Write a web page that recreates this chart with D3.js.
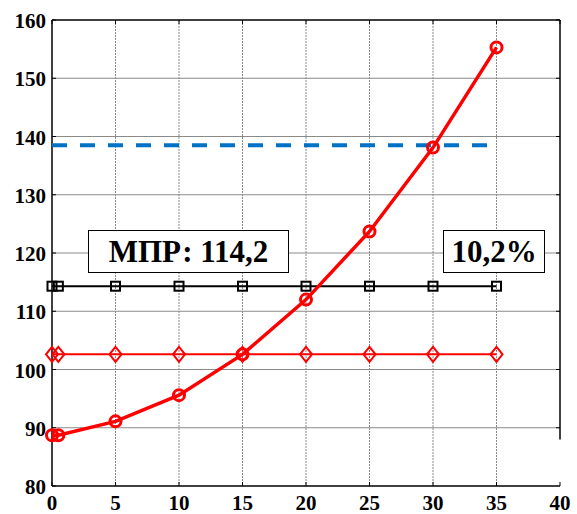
<!DOCTYPE html>
<html>
<head>
<meta charset="utf-8">
<script src="https://cdn.jsdelivr.net/npm/d3@7"></script>
<style>
html,body{margin:0;padding:0;background:#fff;}
svg{display:block;}
</style>
</head>
<body>
<script>
// ---- data ----
const xValues = [0, 0.5, 5, 10, 15, 20, 25, 30, 35];
const curveValues = [88.7, 88.7, 91.1, 95.6, 102.6, 112.0, 123.7, 138.1, 155.3];
const diamondValues = [102.6, 102.6, 102.6, 102.6, 102.6, 102.6, 102.6, 102.6, 102.6];
const squareValues = [114.3, 114.3, 114.3, 114.3, 114.3, 114.3, 114.3, 114.3, 114.3];
const dashedLevel = 138.5;
const dashedRange = [0, 35];
const xTicks = [0, 5, 10, 15, 20, 25, 30, 35, 40];
const yTicks = [80, 90, 100, 110, 120, 130, 140, 150, 160];
const labelLeft = "МПР: 114,2";
const labelRight = "10,2%";

const W = 577, H = 514;
const svg = d3.select("body").append("svg").attr("width", W).attr("height", H);
const font = "Liberation Serif, Times New Roman, serif";

const x = d3.scaleLinear().domain([0, 40]).range([52, 560]);
const y = d3.scaleLinear().domain([80, 160]).range([486, 20]);

// grid
const grid = svg.append("g");
grid.selectAll("line.v").data(xTicks.filter(d => d > 0 && d < 40)).join("line")
  .attr("x1", d => x(d)).attr("x2", d => x(d)).attr("y1", y(160)).attr("y2", y(80))
  .attr("stroke", "#8a8a8a").attr("stroke-width", 1).attr("stroke-dasharray", "2,1");
grid.selectAll("line.h").data(yTicks.filter(d => d > 80 && d < 160)).join("line")
  .attr("x1", x(0)).attr("x2", x(40)).attr("y1", d => y(d)).attr("y2", d => y(d))
  .attr("stroke", "#8a8a8a").attr("stroke-width", 1);

// axes frame
const ax = svg.append("g").attr("stroke", "#000").attr("stroke-width", 1.5);
ax.append("line").attr("x1", x(0)).attr("x2", x(40)).attr("y1", y(80)).attr("y2", y(80));
ax.append("line").attr("x1", x(0)).attr("x2", x(40)).attr("y1", y(160)).attr("y2", y(160));
ax.append("line").attr("x1", x(0)).attr("x2", x(0)).attr("y1", y(80)).attr("y2", y(160));
ax.append("line").attr("x1", x(40)).attr("x2", x(40)).attr("y1", y(160)).attr("y2", y(88));

// ticks
const tk = svg.append("g").attr("stroke", "#000").attr("stroke-width", 1);
tk.selectAll("line.b").data(xTicks).join("line")
  .attr("x1", d => x(d)).attr("x2", d => x(d)).attr("y1", y(80)).attr("y2", y(80) - 4);
tk.selectAll("line.t").data(xTicks).join("line")
  .attr("x1", d => x(d)).attr("x2", d => x(d)).attr("y1", y(160)).attr("y2", y(160) + 4);
tk.selectAll("line.l").data(yTicks).join("line")
  .attr("x1", x(0)).attr("x2", x(0) + 4).attr("y1", d => y(d)).attr("y2", d => y(d));
tk.selectAll("line.r").data(yTicks.filter(d => d >= 90)).join("line")
  .attr("x1", x(40)).attr("x2", x(40) - 4).attr("y1", d => y(d)).attr("y2", d => y(d));

// tick labels
svg.append("g").selectAll("text").data(xTicks).join("text")
  .attr("x", d => x(d)).attr("y", 510).attr("text-anchor", "middle")
  .attr("font-family", font).attr("font-weight", "bold").attr("font-size", 21)
  .text(d => d);
svg.append("g").selectAll("text").data(yTicks).join("text")
  .attr("x", 46).attr("y", d => y(d) + 8).attr("text-anchor", "end")
  .attr("font-family", font).attr("font-weight", "bold").attr("font-size", 21)
  .text(d => d);

// dashed blue line
svg.append("line")
  .attr("x1", x(dashedRange[0])).attr("x2", x(dashedRange[1]))
  .attr("y1", y(dashedLevel)).attr("y2", y(dashedLevel))
  .attr("stroke", "#0072C6").attr("stroke-width", 4).attr("stroke-dasharray", "15,13");

// text boxes
function box(x0, y0, w, h, txt) {
  svg.append("rect").attr("x", x0).attr("y", y0).attr("width", w).attr("height", h)
    .attr("fill", "#fff").attr("stroke", "#000").attr("stroke-width", 1);
  svg.append("text").attr("x", x0 + w / 2).attr("y", y0 + h / 2 + 10.5)
    .attr("text-anchor", "middle").attr("font-family", font).attr("font-weight", "bold")
    .attr("font-size", 31).text(txt);
}
box(88.5, 230.5, 200, 42, labelLeft);
box(443.5, 230.5, 101, 42, labelRight);

const line = d3.line().x((d, i) => x(xValues[i])).y(d => y(d));

// black square series
svg.append("path").datum(squareValues).attr("d", line)
  .attr("fill", "none").attr("stroke", "#000").attr("stroke-width", 2);
svg.append("g").selectAll("rect").data(squareValues).join("rect")
  .attr("x", (d, i) => x(xValues[i]) - 4.5).attr("y", d => y(d) - 4.5)
  .attr("width", 9).attr("height", 9)
  .attr("fill", "none").attr("stroke", "#000").attr("stroke-width", 2);

// red diamond series
svg.append("path").datum(diamondValues).attr("d", line)
  .attr("fill", "none").attr("stroke", "#ff0000").attr("stroke-width", 2);
svg.append("g").selectAll("path").data(diamondValues).join("path")
  .attr("d", (d, i) => {
    const cx = x(xValues[i]), cy = y(d);
    return `M${cx},${cy - 7.5}L${cx + 6},${cy}L${cx},${cy + 7.5}L${cx - 6},${cy}Z`;
  })
  .attr("fill", "none").attr("stroke", "#ff0000").attr("stroke-width", 2);

// red curve with circles
svg.append("path").datum(curveValues).attr("d", line)
  .attr("fill", "none").attr("stroke", "#ff0000").attr("stroke-width", 3.5);
svg.append("g").selectAll("circle").data(curveValues).join("circle")
  .attr("cx", (d, i) => x(xValues[i])).attr("cy", d => y(d)).attr("r", 5.5)
  .attr("fill", "none").attr("stroke", "#ff0000").attr("stroke-width", 3);
</script>
</body>
</html>
